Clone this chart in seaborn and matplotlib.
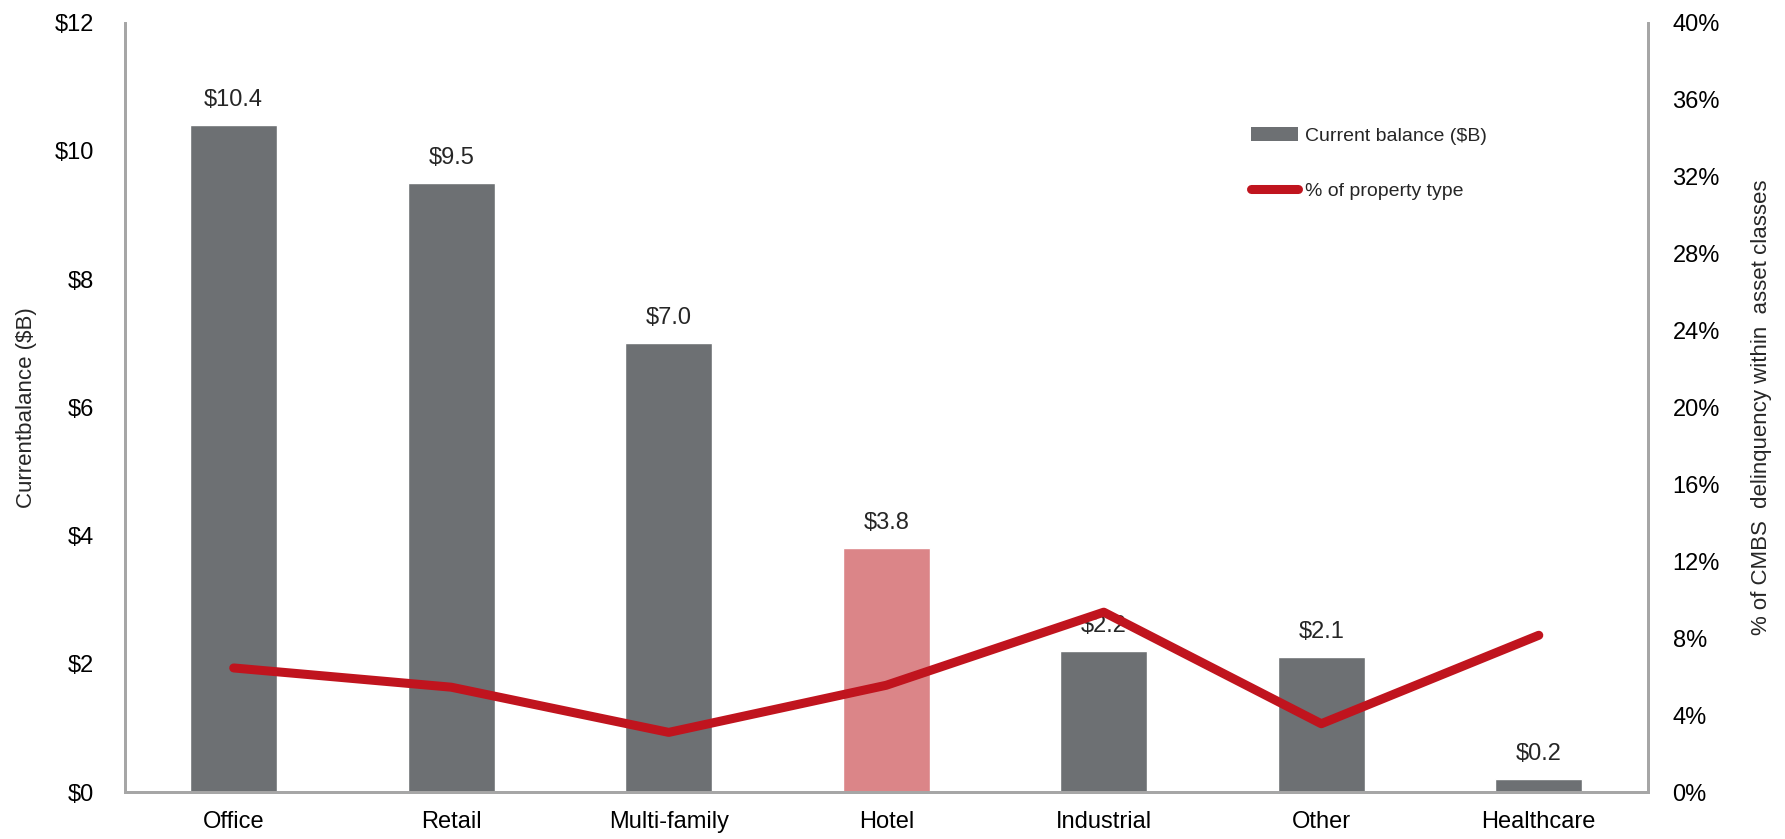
import matplotlib
matplotlib.use("Agg")
import matplotlib.pyplot as plt
import matplotlib.font_manager as fm
from matplotlib.patches import Patch
from matplotlib.lines import Line2D
from matplotlib.ticker import FuncFormatter, MultipleLocator
import seaborn as sns
import pandas as pd

# Data
categories = ["Office", "Retail", "Multi-family", "Hotel", "Industrial", "Other", "Healthcare"]
balance_bn = [10.4, 9.5, 7.0, 3.8, 2.2, 2.1, 0.2]
delinquency_pct = [6.45, 5.45, 3.1, 5.55, 9.35, 3.55, 8.15]
bar_labels = ["$10.4", "$9.5", "$7.0", "$3.8", "$2.2", "$2.1", "$0.2"]

GRAY = "#6d7073"
HOTEL = "#db8588"
RED = "#c0141e"
SPINE = "#a6a6a6"

sns.set_theme(style="white")
available = {f.name for f in fm.fontManager.ttflist}
family = "Liberation Sans Narrow" if "Liberation Sans Narrow" in available else "Liberation Sans"
plt.rcParams["font.family"] = [family, "DejaVu Sans"]

df = pd.DataFrame({"category": categories, "balance": balance_bn, "pct": delinquency_pct})
palette = {c: (HOTEL if c == "Hotel" else GRAY) for c in categories}

fig = plt.figure(figsize=(17.85, 8.39), dpi=100)
ax = fig.add_axes([0.070, 0.056, 0.853, 0.917])

sns.barplot(data=df, x="category", y="balance", hue="category", palette=palette,
            legend=False, width=0.40, saturation=1, ax=ax, zorder=2)

ax.set_ylim(0, 12)
ax.set_xlim(-0.5, len(categories) - 0.5)
ax.yaxis.set_major_locator(MultipleLocator(2))
ax.yaxis.set_major_formatter(FuncFormatter(lambda v, p: f"${v:.0f}"))
ax.set_xlabel("")
ax.set_ylabel("Currentbalance ($B)", fontsize=16)
ax.yaxis.set_label_coords(-0.058, 0.5)
ax.tick_params(axis="both", length=0, labelsize=17, colors="black")
ax.tick_params(axis="x", pad=14)
ax.tick_params(axis="y", pad=22)

for i, (v, t) in enumerate(zip(balance_bn, bar_labels)):
    ax.annotate(t, (i, v), xytext=(0, 10), textcoords="offset points",
                ha="center", va="bottom", fontsize=17, zorder=3)

for side in ["left", "bottom", "right"]:
    ax.spines[side].set_color(SPINE)
    ax.spines[side].set_linewidth(2)
ax.spines["top"].set_visible(False)

ax2 = ax.twinx()
sns.lineplot(data=df, x="category", y="pct", sort=False, color=RED, linewidth=6.5,
             solid_capstyle="round", ax=ax2, zorder=4)
ax2.set_ylim(0, 40)
ax2.yaxis.set_major_locator(MultipleLocator(4))
ax2.yaxis.set_major_formatter(FuncFormatter(lambda v, p: f"{v:.0f}%"))
ax2.set_ylabel("% of CMBS  delinquency within  asset classes", fontsize=16)
ax2.yaxis.set_label_coords(1.068, 0.5)
ax2.tick_params(axis="y", length=0, labelsize=17, colors="black", pad=18)
for side in ["left", "bottom", "right"]:
    ax2.spines[side].set_color(SPINE)
    ax2.spines[side].set_linewidth(2)
ax2.spines["top"].set_visible(False)
ax2.set_xlabel("")

handles = [Patch(facecolor=GRAY, edgecolor="none"),
           Line2D([0], [0], color=RED, linewidth=6.5, solid_capstyle="round")]
ax2.legend(handles, ["Current balance ($B)", "% of property type"],
           loc="upper left", bbox_to_anchor=(0.691, 0.869), bbox_transform=fig.transFigure,
           frameon=False, fontsize=14, labelspacing=1.9, handlelength=2.4,
           handleheight=0.7, handletextpad=0.4)

fig.savefig("out.png", dpi=100, facecolor="white")
